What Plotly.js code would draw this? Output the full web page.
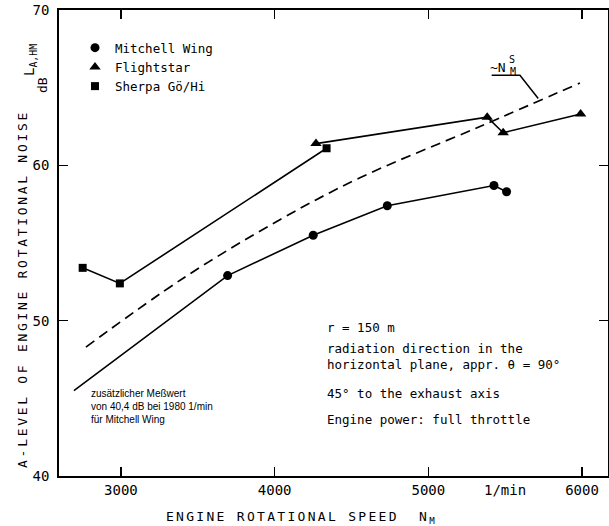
<!DOCTYPE html>
<html>
<head>
<meta charset="utf-8">
<script src="https://cdn.plot.ly/plotly-3.0.1.min.js"></script>
<style>
html,body{margin:0;padding:0;background:#fff;}
#chart{width:609px;height:526px;}
.annotation[data-index="0"] text{letter-spacing:2.7px;}
.annotation[data-index="1"] text{letter-spacing:2.3px;}
</style>
</head>
<body>
<div id="chart"></div>
<script>
// ---- data ----
const mitchellX = [3694, 4251, 4733, 5427, 5509];
const mitchellY = [52.9, 55.5, 57.4, 58.7, 58.3];
const mitchellLineX = [2694, 3694, 4251, 4733, 5427, 5509];
const mitchellLineY = [45.5, 52.9, 55.5, 57.4, 58.7, 58.3];

const flightX = [4269, 5383, 5487, 5991];
const flightY = [61.4, 63.1, 62.1, 63.3];

const sherpaX = [2751, 2993, 4338];
const sherpaY = [53.4, 52.4, 61.1];

const refX = [2772, 3400, 4034, 4555, 5336, 5986];
const refY = [48.3, 52.7, 56.5, 59.2, 62.5, 65.3];

const leaderX = [5412, 5596, 5715];
const leaderY = [65.8, 65.8, 64.3];

const xTicks = [3000, 4000, 5000, 6000];
const xTickText = ['3000', '4000', '5000', '6000'];
const yTicks = [40, 50, 60, 70];
const yTickText = ['40', '50', '60', '70'];

const seriesNames = ['Mitchell Wing', 'Flightstar', 'Sherpa Gö/Hi'];
const infoLines = ['r = 150 m', 'radiation direction in the<br>horizontal plane, appr. θ = 90°', '45° to the exhaust axis', 'Engine power: full throttle'];
const noteLines = ['zusätzlicher Meßwert', 'von 40,4 dB bei 1980 1/min', 'für Mitchell Wing'];

// ---- styling ----
const MONO = 'DejaVu Sans Mono, Liberation Mono, monospace';
const BLK = '#000';
const lineStyle = {color: BLK, width: 1.6};

const traces = [
  {x: mitchellLineX, y: mitchellLineY, mode: 'lines', line: lineStyle, showlegend: false, hoverinfo: 'skip'},
  {x: flightX, y: flightY, mode: 'lines', line: lineStyle, showlegend: false, hoverinfo: 'skip'},
  {x: sherpaX, y: sherpaY, mode: 'lines', line: lineStyle, showlegend: false, hoverinfo: 'skip'},
  {x: refX, y: refY, mode: 'lines', line: {color: BLK, width: 1.7, dash: '10px,6px', shape: 'spline'}, showlegend: false, hoverinfo: 'skip'},
  {x: mitchellX, y: mitchellY, mode: 'markers', name: seriesNames[0], marker: {symbol: 'circle', size: 9, color: BLK}},
  {x: flightX, y: flightY, mode: 'markers', name: seriesNames[1], marker: {symbol: 'triangle-up', size: 10, color: BLK}},
  {x: sherpaX, y: sherpaY, mode: 'markers', name: seriesNames[2], marker: {symbol: 'square', size: 8, color: BLK}}
];

const L = 59, T = 10, W = 549, H = 466;
const px = v => (v - L) / W;
const py = v => (T + H - v) / H;

const annotations = [
  {text: 'A-LEVEL OF ENGINE ROTATIONAL NOISE', textangle: -90, xref: 'paper', yref: 'paper', x: px(22), y: py(289), xanchor: 'center', yanchor: 'middle', showarrow: false, font: {family: MONO, size: 13, color: BLK}},
  {text: 'ENGINE ROTATIONAL SPEED  N<sub>M</sub>', xref: 'paper', yref: 'paper', x: px(302), y: py(517), xanchor: 'center', yanchor: 'middle', showarrow: false, font: {family: MONO, size: 13, color: BLK}},
  {text: 'L<sub>A,HM</sub>', textangle: -90, xref: 'paper', yref: 'paper', x: px(30), y: py(60), xanchor: 'center', yanchor: 'middle', showarrow: false, font: {family: MONO, size: 14, color: BLK}},
  {text: 'dB', textangle: -90, xref: 'paper', yref: 'paper', x: px(42), y: py(85), xanchor: 'center', yanchor: 'middle', showarrow: false, font: {family: MONO, size: 13, color: BLK}},
  {text: '~N', xref: 'paper', yref: 'paper', x: px(498), y: py(67), xanchor: 'center', yanchor: 'middle', showarrow: false, font: {family: MONO, size: 13, color: BLK}},
  {text: 'S', xref: 'paper', yref: 'paper', x: px(511.5), y: py(60), xanchor: 'center', yanchor: 'middle', showarrow: false, font: {family: MONO, size: 10, color: BLK}},
  {text: 'M', xref: 'paper', yref: 'paper', x: px(512.5), y: py(71), xanchor: 'center', yanchor: 'middle', showarrow: false, font: {family: MONO, size: 10, color: BLK}},
  {text: '1/min', xref: 'x', yref: 'paper', x: 5500, y: py(490), xanchor: 'center', yanchor: 'middle', showarrow: false, font: {family: MONO, size: 14, color: BLK}}
];
const infoY = [327, 356, 393, 419];
infoLines.forEach((t, i) => annotations.push({text: t, xref: 'paper', yref: 'paper', x: px(325), y: py(infoY[i]), xanchor: 'left', yanchor: 'middle', align: 'left', showarrow: false, font: {family: MONO, size: 12.5, color: BLK}}));
const noteY = [393, 406, 419];
noteLines.forEach((t, i) => annotations.push({text: t, xref: 'paper', yref: 'paper', x: px(89), y: py(noteY[i]), xanchor: 'left', yanchor: 'middle', showarrow: false, font: {family: 'Liberation Sans, Arial, sans-serif', size: 10, color: BLK}}));

const leaderPath = 'M ' + leaderX.map((v, i) => v + ',' + leaderY[i]).join(' L ');

const layout = {
  width: 609, height: 526,
  margin: {l: L, r: 609 - L - W, t: T, b: 526 - T - H, pad: 0},
  paper_bgcolor: '#fff', plot_bgcolor: '#fff',
  showlegend: true,
  legend: {x: px(75), y: py(33), xanchor: 'left', yanchor: 'top', bgcolor: 'rgba(0,0,0,0)', font: {family: MONO, size: 12.5, color: BLK}, tracegroupgap: 0, itemclick: false},
  xaxis: {range: [2597, 6169], tickvals: xTicks, ticktext: xTickText, ticks: 'inside', ticklen: 9, tickwidth: 1.5, tickcolor: BLK,
          showline: true, linecolor: BLK, linewidth: 1.8, mirror: 'ticks', showgrid: false, zeroline: false,
          tickfont: {family: MONO, size: 14, color: BLK}, fixedrange: true},
  yaxis: {range: [40, 70], tickvals: yTicks, ticktext: yTickText, ticks: 'inside', ticklen: 9, tickwidth: 1.5, tickcolor: BLK,
          showline: true, linecolor: BLK, linewidth: 1.8, mirror: 'ticks', showgrid: false, zeroline: false,
          tickfont: {family: MONO, size: 14, color: BLK}, ticklabelstandoff: 5, fixedrange: true},
  annotations: annotations,
  shapes: [{type: 'path', xref: 'x', yref: 'y', path: leaderPath, line: {color: BLK, width: 1.5}}]
};

Plotly.newPlot('chart', traces, layout, {displayModeBar: false, staticPlot: true});
</script>
</body>
</html>
